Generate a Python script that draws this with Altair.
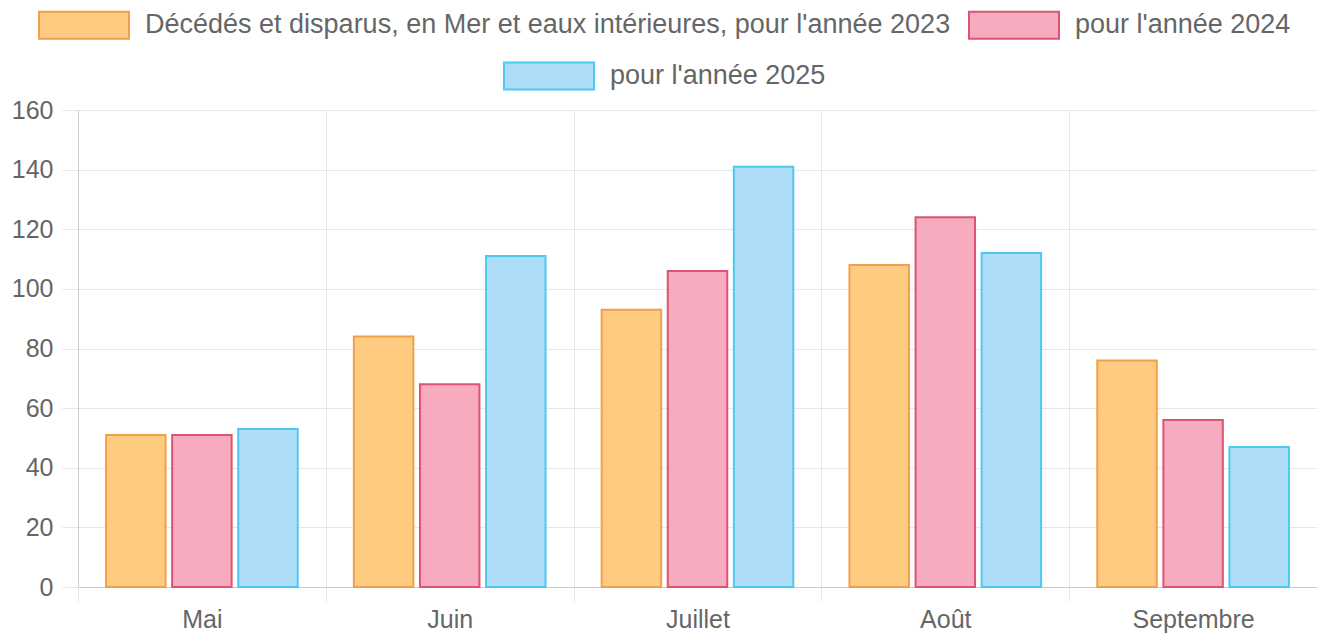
import altair as alt
import pandas as pd

months = ["Mai", "Juin", "Juillet", "Août", "Septembre"]
series = [
    "Décédés et disparus, en Mer et eaux intérieures, pour l'année 2023",
    "pour l'année 2024",
    "pour l'année 2025",
]
v2023 = [51, 84, 93, 108, 76]
v2024 = [51, 68, 106, 124, 56]
v2025 = [53, 111, 141, 112, 47]

fills = ["#FFCB80", "#F7ABBE", "#AEDDF8"]
strokes = ["#F0A04B", "#DC5474", "#4DC9F0"]

rows = []
for s, vals in zip(series, [v2023, v2024, v2025]):
    for m, v in zip(months, vals):
        rows.append({"mois": m, "serie": s, "valeur": v})
df = pd.DataFrame(rows)

FONT = "Liberation Sans"
sym_path = "M-1,-0.3H1V0.3H-1Z"

x_enc = alt.X(
    "mois:N",
    sort=months,
    title=None,
    scale=alt.Scale(paddingInner=0, paddingOuter=0),
    axis=alt.Axis(
        tickBand="extent",
        grid=True,
        gridColor="#e6e6e6",
        tickColor="#e6e6e6",
        tickSize=14,
        domainColor="#cccccc",
        labelAngle=0,
        labelFontSize=25,
        labelFont=FONT,
        labelColor="#666666",
        labelPadding=6,
    ),
)
y_enc = alt.Y(
    "valeur:Q",
    title=None,
    scale=alt.Scale(domain=[0, 160], nice=False),
    axis=alt.Axis(
        values=[0, 20, 40, 60, 80, 100, 120, 140, 160],
        gridColor="#e6e6e6",
        tickColor="#e6e6e6",
        tickSize=16,
        domainColor="#cccccc",
        labelFontSize=25,
        labelFont=FONT,
        labelColor="#666666",
        labelPadding=9,
    ),
)
xoff = alt.XOffset(
    "serie:N",
    scale=alt.Scale(domain=series, paddingInner=0.1, paddingOuter=0.425),
)

def legend(x, y):
    return alt.Legend(
        title=None,
        orient="none",
        legendX=x,
        legendY=y,
        direction="horizontal",
        symbolType=sym_path,
        symbolSize=8100,
        symbolStrokeWidth=2,
        labelFontSize=27,
        labelFont=FONT,
        labelColor="#666666",
        labelOffset=15,
        columnPadding=14,
        padding=0,
        labelLimit=1000,
    )

base = alt.Chart(df)

bars_a = base.transform_filter(
    alt.FieldOneOfPredicate(field="serie", oneOf=series[:2])
).mark_bar(strokeWidth=2).encode(
    x=x_enc,
    y=y_enc,
    xOffset=xoff,
    fill=alt.Fill("serie:N", scale=alt.Scale(domain=series[:2], range=fills[:2]), legend=legend(-40, -131)),
    stroke=alt.Stroke("serie:N", scale=alt.Scale(domain=series[:2], range=strokes[:2]), legend=legend(-40, -131)),
)

bars_b = base.transform_filter(
    alt.FieldEqualPredicate(field="serie", equal=series[2])
).mark_bar(strokeWidth=2).encode(
    x=x_enc,
    y=y_enc,
    xOffset=xoff,
    fill=alt.Fill("serie:N", scale=alt.Scale(domain=series[2:], range=fills[2:]), legend=legend(425, -80)),
    stroke=alt.Stroke("serie:N", scale=alt.Scale(domain=series[2:], range=strokes[2:]), legend=legend(425, -80)),
)

chart = alt.layer(bars_a, bars_b).resolve_scale(
    fill="independent", stroke="independent"
).properties(
    width=1239,
    height=477,
    autosize=alt.AutoSizeParams(type="none"),
    padding={"left": 70, "top": 102, "right": 0, "bottom": 49},
).configure_view(stroke=None)

chart.save("out.html", embed_options={"renderer": "svg", "actions": False})
